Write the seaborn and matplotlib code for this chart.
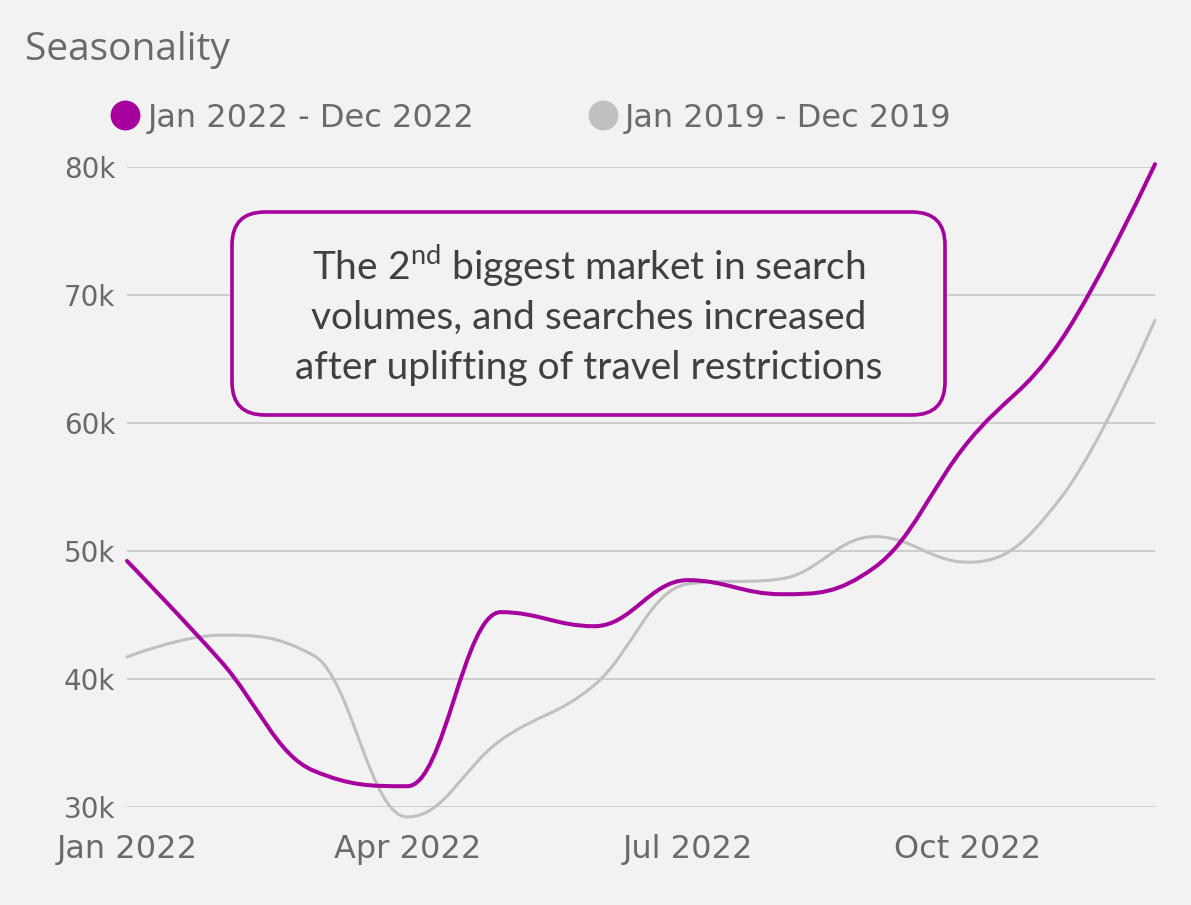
#####################################################################
#   Seasonality chart - search volumes 2022 vs 2019
#####################################################################
import matplotlib
matplotlib.use("Agg")
import matplotlib.pyplot as plt
import pandas as pd
import seaborn as sns
from matplotlib.path import Path
from matplotlib.patches import PathPatch, FancyBboxPatch
from matplotlib.lines import Line2D

#####################################################################
#   Data
#####################################################################
months = ["Jan", "Feb", "Mar", "Apr", "May", "Jun",
          "Jul", "Aug", "Sep", "Oct", "Nov", "Dec"]
month_idx = list(range(12))

searches_2022 = [49200, 41400, 32800, 31600, 45200, 44100,
                 47700, 46600, 48700, 58500, 66500, 80200]
searches_2019 = [41700, 43400, 41800, 29200, 35200, 39500,
                 47400, 47800, 51100, 49100, 54200, 68000]

series_names = ["Jan 2022 - Dec 2022", "Jan 2019 - Dec 2019"]

x_tick_pos = [0, 3, 6, 9]
x_tick_labels = ["Jan 2022", "Apr 2022", "Jul 2022", "Oct 2022"]
y_ticks = [30000, 40000, 50000, 60000, 70000, 80000]
y_tick_labels = ["30k", "40k", "50k", "60k", "70k", "80k"]

title_text = "Seasonality"
note_lines = [r"The 2$^{\mathrm{nd}}$ biggest market in search",
              "volumes, and searches increased",
              "after uplifting of travel restrictions"]

#####################################################################
#   Styling
#####################################################################
BG = "#f2f2f2"
PURPLE = "#a6009e"
GREY = "#c0c0c0"
GRID = "#cbcbcb"
LABEL = "#6a6a6a"
W, H = 1191, 905


def spline_path(xs, ys, smoothing=1.5):
    # highcharts-like spline through the points (rendering only)
    denom = smoothing + 1
    n = len(xs)
    left = [(xs[i], ys[i]) for i in range(n)]
    right = list(left)
    for i in range(1, n - 1):
        x, y = xs[i], ys[i]
        lx, ly = xs[i - 1], ys[i - 1]
        nx, ny = xs[i + 1], ys[i + 1]
        lcx = (smoothing * x + lx) / denom
        lcy = (smoothing * y + ly) / denom
        rcx = (smoothing * x + nx) / denom
        rcy = (smoothing * y + ny) / denom
        corr = ((rcy - lcy) * (rcx - x)) / (rcx - lcx) + y - rcy
        lcy += corr
        rcy += corr
        if lcy > ly and lcy > y:
            lcy = max(ly, y)
            rcy = 2 * y - lcy
        elif lcy < ly and lcy < y:
            lcy = min(ly, y)
            rcy = 2 * y - lcy
        if rcy > ny and rcy > y:
            rcy = max(ny, y)
            lcy = 2 * y - rcy
        elif rcy < ny and rcy < y:
            rcy = min(ny, y)
            lcy = 2 * y - rcy
        left[i] = (lcx, lcy)
        right[i] = (rcx, rcy)
    verts = [(xs[0], ys[0])]
    codes = [Path.MOVETO]
    for i in range(1, n):
        verts += [right[i - 1], left[i], (xs[i], ys[i])]
        codes += [Path.CURVE4] * 3
    return Path(verts, codes)


def main():
    sns.set_theme(style="whitegrid", rc={
        "axes.facecolor": BG,
        "figure.facecolor": BG,
        "grid.color": GRID,
        "grid.linewidth": 1.3,
    })
    plt.rcParams["font.family"] = ["DejaVu Sans"]
    plt.rcParams["mathtext.fontset"] = "custom"
    plt.rcParams["mathtext.rm"] = "Lato"

    df_2022 = pd.DataFrame({"month": month_idx, "searches": searches_2022})
    df_2019 = pd.DataFrame({"month": month_idx, "searches": searches_2019})

    fig = plt.figure(figsize=(W / 100, H / 100), dpi=100)
    ax = fig.add_axes([127 / W, 1 - 806.7 / H, 1028 / W, 640 / H])

    sns.lineplot(data=df_2019, x="month", y="searches", color=GREY,
                 linewidth=2.2, ax=ax)
    sns.lineplot(data=df_2022, x="month", y="searches", color=PURPLE,
                 linewidth=2.9, ax=ax)

    # swap the straight segments for smooth spline curves
    for z, line in enumerate(list(ax.lines)):
        path = spline_path(list(line.get_xdata()), list(line.get_ydata()))
        ax.add_patch(PathPatch(path, facecolor="none",
                               edgecolor=line.get_color(),
                               linewidth=line.get_linewidth(),
                               capstyle="round", joinstyle="round",
                               clip_on=False, zorder=3 + z))
        line.remove()

    ax.set_xlim(0, 11)
    ax.set_ylim(30000, 80000)
    ax.set_xticks(x_tick_pos)
    ax.set_xticklabels(x_tick_labels)
    ax.set_yticks(y_ticks)
    ax.set_yticklabels(y_tick_labels)
    ax.set_xlabel("")
    ax.set_ylabel("")
    ax.grid(axis="x", visible=False)
    ax.grid(axis="y", visible=True)
    sns.despine(ax=ax, left=True, bottom=True)
    ax.tick_params(axis="y", length=0, pad=8.5, labelsize=20,
                   labelcolor=LABEL)
    ax.tick_params(axis="x", length=0, pad=20, labelsize=23,
                   labelcolor=LABEL)

    # title
    fig.text(25 / W, 1 - 60 / H, title_text, family="Open Sans",
             fontsize=28, color=LABEL, va="baseline", ha="left")

    # legend
    handles = [Line2D([], [], marker="o", ls="none", markersize=21.5,
                      markerfacecolor=c, markeredgewidth=0)
               for c in (PURPLE, GREY)]
    fig.legend(handles, series_names, loc="center left",
               bbox_to_anchor=(110 / W, 1 - 118 / H), ncol=2,
               frameon=False, handlelength=0.95, handletextpad=0.22,
               columnspacing=3.55, borderaxespad=0, borderpad=0,
               prop={"family": "DejaVu Sans", "size": 23},
               labelcolor=LABEL)

    # annotation box
    box = FancyBboxPatch((2.32, (H - 415) / 100), 7.13, 2.03,
                         boxstyle="round,pad=0,rounding_size=0.33",
                         transform=fig.dpi_scale_trans,
                         facecolor=BG, edgecolor=PURPLE, linewidth=2.6,
                         zorder=5)
    fig.patches.append(box)
    for k, txt in enumerate(note_lines):
        fig.text(588.5 / W, 1 - (279 + 50 * k) / H, txt, family="Lato",
                 fontsize=28, color="#404040", ha="center", va="baseline",
                 zorder=6)

    fig.savefig("out.png", dpi=100, facecolor=BG)


if __name__ == "__main__":
    main()
